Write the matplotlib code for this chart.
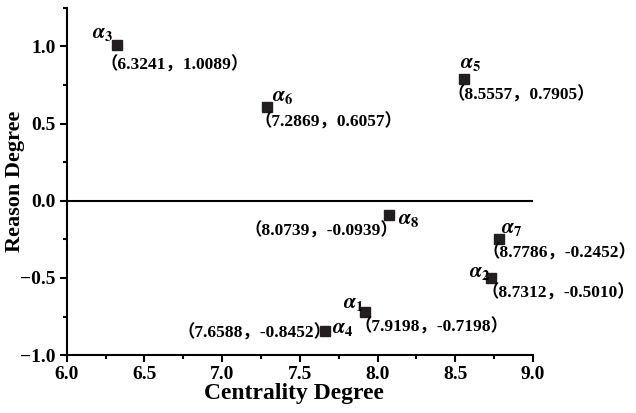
import matplotlib.pyplot as plt
from matplotlib.ticker import MultipleLocator

plt.rcParams["font.family"] = ["Liberation Serif", "Noto Sans CJK SC"]
plt.rcParams["font.weight"] = "bold"
plt.rcParams["mathtext.fontset"] = "stix"

names = ["1", "2", "3", "4", "5", "6", "7", "8"]
centrality = [7.9198, 8.7312, 6.3241, 7.6588, 8.5557, 7.2869, 8.7786, 8.0739]
reason = [-0.7198, -0.5010, 1.0089, -0.8452, 0.7905, 0.6057, -0.2452, -0.0939]

# label placement in pixels from the marker: (dx, dy, ha)
alpha_off = {
    "1": (-22, 9, "left"),
    "2": (-22, 6, "left"),
    "3": (-25, 12, "left"),
    "4": (7, 3, "left"),
    "5": (-4, 16, "left"),
    "6": (5, 11, "left"),
    "7": (2, 11, "left"),
    "8": (9, -4, "left"),
}
coord_off = {
    "1": (-11, -15, "left"),
    "2": (-10, -15, "left"),
    "3": (-17, -20, "left"),
    "4": (7, -2, "right"),
    "5": (-16, -16, "left"),
    "6": (-12, -15, "left"),
    "7": (-16, -14, "left"),
    "8": (9, -16, "right"),
}

fig = plt.figure(figsize=(6.36, 4.13), dpi=100)
ax = fig.add_axes([0.105, 0.14, 0.733, 0.841])

ax.plot(centrality, reason, "s", color="#231f20", markersize=7, linestyle="none")
ax.axhline(0, color="black", linewidth=1.5)

for n, x, y in zip(names, centrality, reason):
    dx, dy, ha = alpha_off[n]
    ax.annotate(r"$\boldsymbol{\alpha}_{\mathbf{%s}}$" % n, (x, y), xytext=(dx, dy),
                textcoords="offset pixels", ha=ha, va="center", fontsize=15)
    dx, dy, ha = coord_off[n]
    ax.annotate("（%.4f，%.4f）" % (x, y), (x, y), xytext=(dx, dy),
                textcoords="offset pixels", ha=ha, va="center", fontsize=12.5,
                fontweight="bold")

ax.set_xlim(6.0, 9.0)
ax.set_ylim(-1.0, 1.25)
ax.xaxis.set_major_locator(MultipleLocator(0.5))
ax.xaxis.set_minor_locator(MultipleLocator(0.25))
ax.yaxis.set_major_locator(MultipleLocator(0.5))
ax.yaxis.set_minor_locator(MultipleLocator(0.25))
ax.spines["top"].set_visible(False)
ax.spines["right"].set_visible(False)
ax.spines["left"].set_linewidth(1.5)
ax.spines["bottom"].set_linewidth(1.5)
ax.tick_params(which="major", direction="out", length=5, width=1.5, labelsize=14, pad=3)
ax.tick_params(which="minor", direction="out", length=3, width=1.5)
for lab in ax.get_xticklabels() + ax.get_yticklabels():
    lab.set_fontweight("bold")

ax.set_xlabel("Centrality Degree", fontsize=17, fontweight="bold")
ax.set_ylabel("Reason Degree", fontsize=16, fontweight="bold")
ax.xaxis.set_label_coords(0.488, -0.08)
ax.yaxis.set_label_coords(-0.09, 0.5)

fig.savefig("out.png", dpi=100)
